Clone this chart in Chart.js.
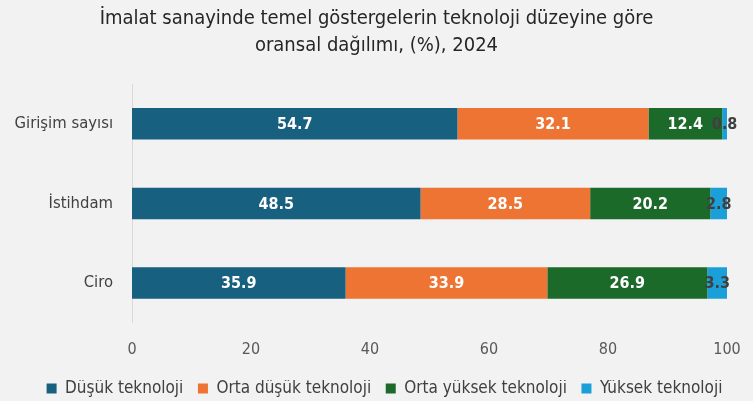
<!DOCTYPE html>
<html>
<head>
<meta charset="utf-8">
<script src="https://cdn.jsdelivr.net/npm/chart.js@4.4.1/dist/chart.umd.min.js"></script>
<style>
  html, body { margin: 0; padding: 0; background: #f2f2f2; }
  #wrap { width: 753px; height: 401px; }
</style>
</head>
<body>
<div id="wrap"><canvas id="techChart" width="753" height="401"></canvas></div>
<script>
// chart data
const categories = ['Girişim sayısı', 'İstihdam', 'Ciro'];
const dusukTek = [54.7, 48.5, 35.9];
const ortaDusukTek = [32.1, 28.5, 33.9];
const ortaYuksekTek = [12.4, 20.2, 26.9];
const yuksekTek = [0.8, 2.8, 3.3];
const xTicks = [0, 20, 40, 60, 80, 100];

const fontFamily = '"Liberation Sans Narrow", "DejaVu Sans Condensed", "Liberation Sans", sans-serif';

// draws the value in the middle of each bar segment
const segmentLabels = {
    id: 'segmentLabels',
    afterDatasetsDraw(chart) {
        const ctx = chart.ctx;
        ctx.save();
        ctx.font = 'bold 16px ' + fontFamily;
        ctx.textAlign = 'center';
        ctx.textBaseline = 'middle';
        chart.data.datasets.forEach(function (ds, i) {
            const meta = chart.getDatasetMeta(i);
            meta.data.forEach(function (bar, j) {
                const v = ds.data[j];
                const cx = (bar.x + bar.base) / 2;
                ctx.fillStyle = v < 5 ? '#404040' : '#ffffff';
                ctx.fillText(v.toFixed(1), cx, bar.y + 1);
            });
        });
        ctx.restore();
    }
};

// legend sits a little right of centre in the original
const legendNudge = {
    id: 'legendNudge',
    afterLayout(chart) {
        if (chart.legend) {
            chart.legend.left += 8;
            chart.legend.right += 8;
        }
    }
};

document.addEventListener('DOMContentLoaded', function () {
    const canvas = document.getElementById('techChart');
    const ctx = canvas.getContext('2d');

    new Chart(ctx, {
        type: 'bar',
        data: {
            labels: categories,
            datasets: [
                { label: 'Düşük teknoloji', data: dusukTek, backgroundColor: '#17607f' },
                { label: 'Orta düşük teknoloji', data: ortaDusukTek, backgroundColor: '#ed7432' },
                { label: 'Orta yüksek teknoloji', data: ortaYuksekTek, backgroundColor: '#1b6a2a' },
                { label: 'Yüksek teknoloji', data: yuksekTek, backgroundColor: '#1a9fd8' }
            ]
        },
        options: {
            indexAxis: 'y',
            responsive: false,
            animation: false,
            barPercentage: 0.8,
            categoryPercentage: 0.495,
            layout: { padding: { top: 5, right: 0, bottom: -6, left: 0 } },
            plugins: {
                title: {
                    display: true,
                    text: ['İmalat sanayinde temel göstergelerin teknoloji düzeyine göre', 'oransal dağılımı, (%), 2024'],
                    color: '#262626',
                    font: { family: fontFamily, size: 20, weight: 'normal', lineHeight: 1.35 },
                    padding: { top: 0, bottom: 25 }
                },
                legend: {
                    position: 'bottom',
                    labels: {
                        color: '#404040',
                        boxWidth: 10,
                        boxHeight: 10,
                        padding: 0,
                        font: { family: fontFamily, size: 17 },
                        generateLabels: function (chart) {
                            const items = Chart.defaults.plugins.legend.labels.generateLabels(chart);
                            items.forEach(function (it, i) {
                                if (i < items.length - 1) it.text = it.text + '   ';
                            });
                            return items;
                        }
                    }
                },
                tooltip: { enabled: false }
            },
            scales: {
                x: {
                    stacked: true,
                    min: 0,
                    max: 100,
                    afterBuildTicks: function (scale) {
                        scale.ticks = xTicks.map(function (v) { return { value: v }; });
                    },
                    afterFit: function (scale) { scale.height += 12; },
                    grid: { display: false },
                    border: { display: false },
                    ticks: {
                        color: '#595959',
                        padding: 9,
                        font: { family: fontFamily, size: 16 }
                    }
                },
                y: {
                    stacked: true,
                    afterFit: function (scale) { scale.width = 132; },
                    grid: { display: false },
                    border: { display: true, color: '#d9d9d9', width: 1 },
                    ticks: {
                        color: '#404040',
                        padding: 11,
                        font: { family: fontFamily, size: 16.5 }
                    }
                },
                // empty right-side spacer so the plot ends before the canvas edge
                ySpacer: {
                    type: 'category',
                    axis: 'y',
                    position: 'right',
                    afterFit: function (scale) { scale.width = 26; },
                    grid: { display: false },
                    border: { display: false },
                    ticks: { display: false }
                }
            }
        },
        plugins: [segmentLabels, legendNudge]
    });
});
</script>
</body>
</html>
